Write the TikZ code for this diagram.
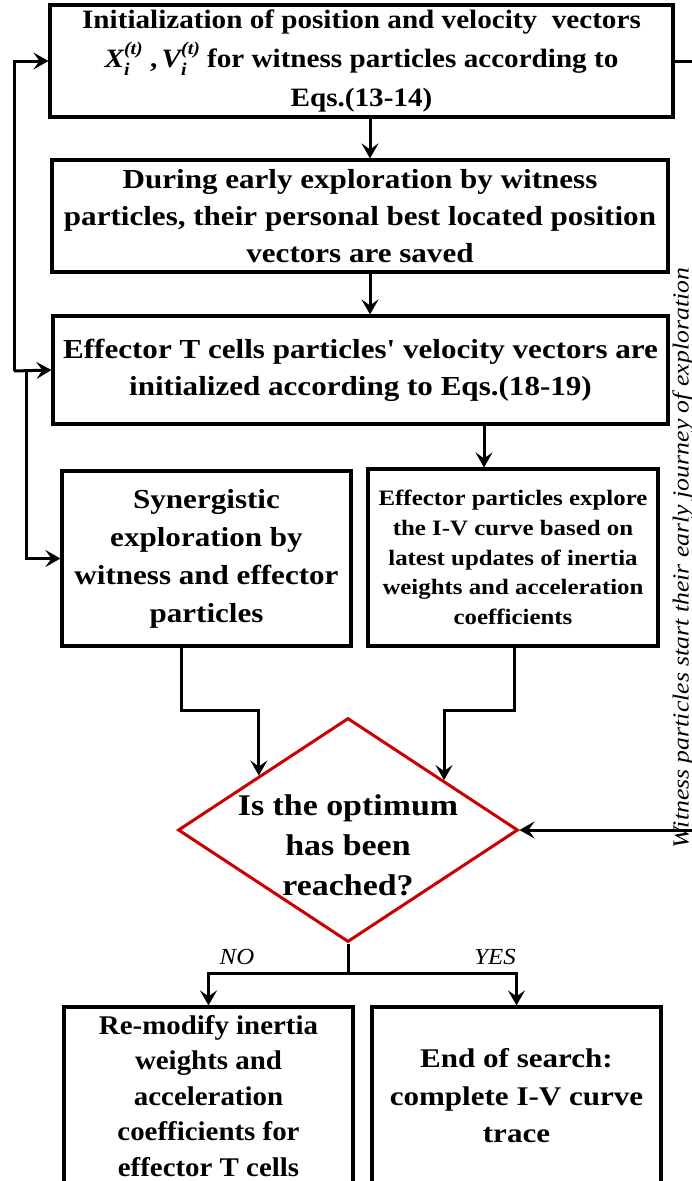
\documentclass[tikz,border=0pt]{standalone}
\usepackage{fontspec}
\setmainfont{Liberation Serif}
\newfontfamily\fAf[FakeStretch=1.1]{Liberation Serif}
\newfontfamily\fBf[FakeStretch=1.13]{Liberation Serif}
\newfontfamily\fFf[FakeStretch=1.07]{Liberation Serif}
\newfontfamily\fGf[FakeStretch=1.15]{Liberation Serif}
\newfontfamily\fLf[FakeStretch=1.08]{Liberation Serif}
\newfontfamily\fVf[FakeStretch=1.12]{Liberation Serif}
\usetikzlibrary{shapes.geometric,arrows.meta,calc}
\newcommand{\vsubsup}[3]{#1\rlap{\raisebox{-0.3em}{\fontsize{18}{18}\selectfont #2}}\raisebox{0.5em}{\fontsize{18}{18}\selectfont #3}}
\tikzset{
  box/.style={draw, line width=3.2pt, align=center, inner sep=0pt},
  arr/.style={line width=3pt, -{Stealth[length=15pt,width=17pt,inset=6pt]}},
  ln/.style={line width=3pt},
  fA/.style={font=\fontsize{26.5}{39}\selectfont\bfseries\fAf},
  fB/.style={font=\fontsize{27.5}{37}\selectfont\bfseries\fBf},
  fC/.style={font=\fontsize{27.5}{38}\selectfont\bfseries\fBf},
  fD/.style={font=\fontsize{22}{29.7}\selectfont\bfseries\fBf},
  fE/.style={font=\fontsize{30}{40}\selectfont\bfseries\fBf},
  fF/.style={font=\fontsize{27}{35.5}\selectfont\bfseries\fFf},
  fG/.style={font=\fontsize{27}{37.5}\selectfont\bfseries\fGf},
  lbl/.style={font=\fontsize{23}{23}\selectfont\itshape\fLf},
}
\begin{document}
\begin{tikzpicture}[x=1pt,y=-1pt]
\useasboundingbox (0,0) rectangle (692,1181);
\node[box,fA,minimum width=623pt,minimum height=112pt] (b1) at (361.5,61)
  {Initialization of position and velocity\ \ vectors\\
   {\itshape\vsubsup{X}{i}{(\textit{t})}}\ ,\,{\itshape\vsubsup{V}{i}{(\textit{t})}}\ for witness particles according to\\
   Eqs.(13-14)};
\node[box,fB,minimum width=616pt,minimum height=112pt] (b2) at (360,216)
  {During early exploration by witness\\
   particles, their personal best located position\\
   vectors are saved};
\node[box,fB,minimum width=615pt,minimum height=108pt] (b3) at (360.5,370)
  {Effector T cells particles' velocity vectors are\\
   initialized according to Eqs.(18-19)};
\node[box,fC,minimum width=289pt,minimum height=175pt] (b4) at (206.5,558.5)
  {Synergistic\\ exploration by\\ witness and effector\\ particles};
\node[box,fD,minimum width=290pt,minimum height=177pt] (b5) at (513,557.5)
  {Effector particles explore\\ the I-V curve based on\\ latest updates of inertia\\ weights and acceleration\\ coefficients};
\node[draw=red!80!black,line width=3pt,diamond,minimum width=340pt,minimum height=224pt,inner sep=0pt] (dec) at (348,830) {};
\node[fE,align=center] (dect) at (348,845) {Is the optimum\\ has been\\ reached?};
\node[box,fF,minimum width=289pt,minimum height=178pt] (b6) at (208.5,1096)
  {Re-modify inertia\\ weights and\\ acceleration\\ coefficients for\\ effector T cells};
\node[box,fG,minimum width=289pt,minimum height=178pt] (b7) at (516.5,1096)
  {End of search:\\ complete I-V curve\\ trace};
% main flow
\draw[arr] (b1.south -| 370,0) -- (b2.north -| 370,0);
\draw[arr] (b2.south -| 370,0) -- (b3.north -| 370,0);
\draw[arr] (b3.south -| 484,0) -- (b5.north -| 484,0);
\coordinate (dl) at ($(dec.north)!0.52!(dec.west)$);
\coordinate (dr) at ($(dec.north)!0.56!(dec.east)$);
\draw[arr] (b4.south -| 181,0) |- (dl |- 0,710) -- (dl);
\draw[arr] (b5.south -| 514,0) |- (dr |- 0,710) -- (dr);
\coordinate (split) at (348,973);
\draw[ln] (dec.south) -- (split);
\draw[arr] (split) -| (b6.north);
\draw[arr] (split) -| (b7.north);
\node[lbl] (no) at (237,957) {NO};
\node[lbl] (yes) at (495,957) {YES};
% left feedback
\coordinate (lj) at (14,371);
\coordinate (lj2) at (26,371);
\draw[arr] (lj) |- (b1.west);
\draw[arr] (lj) -- (b3.west);
\draw[arr] (lj2) |- (b4.west);
% right loop
\coordinate (rc) at (702,61);
\draw[arr] (b1.east) -- (rc) |- (dec.east);
\node[rotate=90,font=\fontsize{23}{23}\selectfont\itshape\fVf] (wt) at (683,558) {Witness particles start their early journey of exploration};
\end{tikzpicture}
\end{document}
